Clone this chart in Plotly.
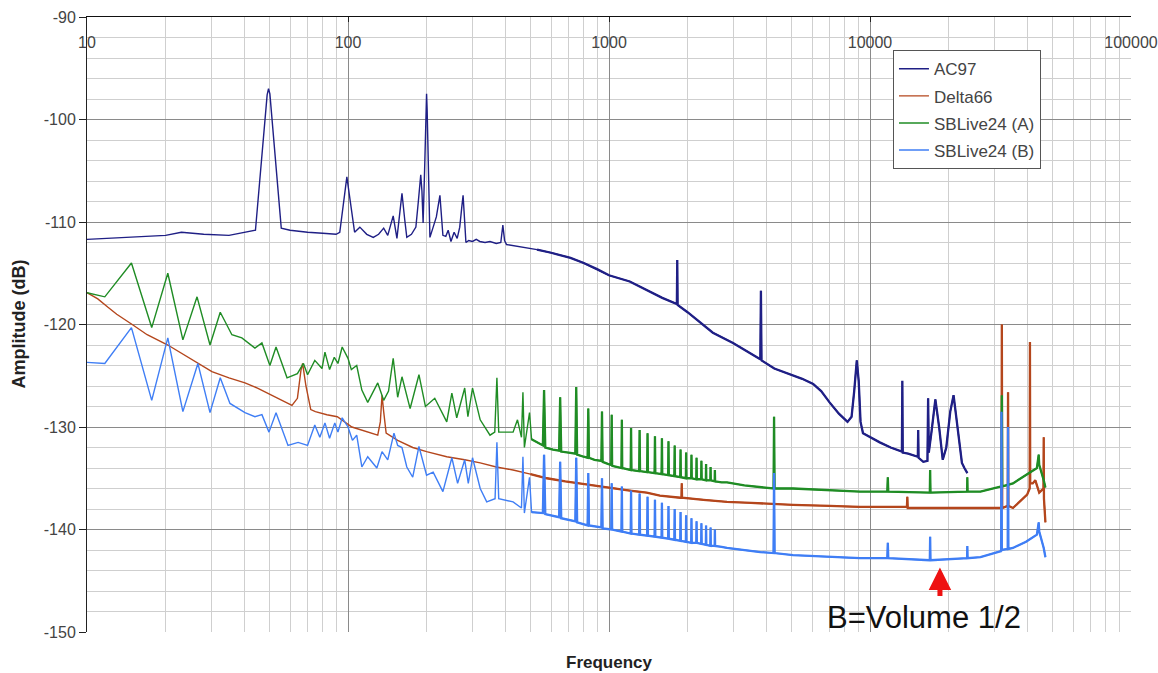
import plotly.graph_objects as go

# ---------------- data ----------------
ac97_f = [10, 12, 15, 20, 23, 28, 35, 40, 44.2, 49, 49.6, 50.2, 55.5, 60, 70, 80, 90, 93, 99, 106,
          111, 118, 125, 131, 137, 142, 149, 154, 161, 165, 168, 175, 182, 186, 190, 192, 194, 197, 199,
          200, 201, 203, 206, 212, 218, 225, 228, 231, 237, 242, 248, 255, 262, 268, 273, 276, 280, 283, 290,
          300, 310, 320, 335, 350, 370, 385, 392, 398, 405, 430, 470, 530, 600, 712, 800, 900, 1000, 1200,
          1394, 1600, 1820, 1826, 1832, 2000, 2234, 2500, 2985, 3400, 3800, 3820, 3840, 4300, 4935, 5500,
          6055, 6500, 7000, 7600, 8200, 8500, 8700, 8900, 9050, 9200, 9400, 10000, 10900, 12000, 13250,
          13300, 13350, 14000, 15250, 15300, 15350, 16000, 16600, 16700, 16800, 17200, 17800, 18400, 19000,
          19600, 20300, 20900, 21500, 22500, 23000, 23600]
ac97_db = [-111.7, -111.6, -111.5, -111.3, -111.0, -111.2, -111.3, -111.0, -110.8, -97.6, -97.0, -97.5,
           -110.6, -110.8, -111.0, -111.1, -111.2, -111.0, -105.6, -111.0,
           -110.5, -111.2, -111.5, -111.2, -110.6, -111.3, -109.4, -111.6, -107.2, -109.8, -111.5,
           -111.2, -110.5, -108.0, -105.4, -107.0, -110.1, -104.0, -98.5, -97.5, -99.0, -105.0, -111.5,
           -110.5, -109.5, -107.4, -109.0, -111.3, -111.4, -110.8, -111.9, -111.0, -111.6, -110.5, -108.5,
           -107.4, -110.0, -112.0, -111.8, -111.9, -111.7, -111.9, -112.0, -111.9, -112.1, -112.0, -110.3,
           -111.8, -112.2, -112.3, -112.5, -112.7, -113.0, -113.5, -114.0, -114.6, -115.2, -115.8, -116.6,
           -117.4, -118.0, -113.7, -118.1, -118.8, -119.8, -120.8, -121.8, -122.7, -123.4, -116.7, -123.5,
           -124.3, -124.9, -125.3, -125.8, -126.5, -127.6, -128.7, -129.5, -129.0, -126.5, -123.5, -125.5,
           -129.5, -130.6, -131.0, -131.5, -132.0, -132.4, -125.5, -132.5, -132.6, -132.9, -130.3, -133.0,
           -133.4, -133.3, -127.2, -132.5, -130.5, -127.3, -130.0, -133.2, -132.0, -128.5, -126.9, -129.5,
           -133.5, -134.0, -134.5]

delta66_f = [10, 11, 12, 13, 14.9, 17, 20.4, 25, 30.1, 35, 40.3, 45, 49.3, 55, 61, 64, 66, 67, 69, 72, 75,
             83, 91, 103.5, 115, 130, 133, 135, 137, 140, 155, 177, 200, 239, 280, 321, 370, 429, 500, 578,
             680, 774, 900, 1036, 1200, 1394, 1567, 1877, 1895, 1900, 1905, 2300, 2832, 3500, 5070, 7000,
             9160, 12000, 13850, 13900, 13950, 15500, 20000, 25000, 30000, 31900, 32000, 32100, 33700,
             33800, 33900, 35300, 38000, 40000, 40900, 41000, 41100, 42000, 43000, 44500, 46200, 46300,
             46400, 47000]
delta66_db = [-116.9, -117.5, -118.3, -119.0, -120.0, -121.0, -122.0, -123.4, -124.6, -125.2, -125.7,
              -126.2, -126.7, -127.3, -127.9, -127.2, -124.5, -123.8, -126.0, -128.3, -128.5, -128.8,
              -129.0, -130.0, -130.4, -130.8, -129.5, -126.9, -128.5, -130.6, -131.3, -132.0, -132.4,
              -132.9, -133.2, -133.5, -133.9, -134.2, -134.6, -135.0, -135.3, -135.5, -135.8, -136.0,
              -136.2, -136.4, -136.7, -136.9, -136.9, -135.5, -136.9, -137.1, -137.3, -137.4, -137.6,
              -137.7, -137.8, -137.8, -137.8, -136.8, -137.9, -137.9, -137.9, -137.9, -137.9, -137.9,
              -120.0, -137.9, -137.7, -126.6, -137.7, -137.9, -137.1, -136.6, -136.0, -121.7, -135.5,
              -135.5, -135.2, -136.4, -136.0, -131.0, -137.0, -139.3]

sbA_f = [10, 11.7, 14.8, 17.7, 20.4, 23.3, 26.4, 29.6, 32.4, 35.9, 39.2, 44, 46.8, 50.2, 53, 58.4, 64, 67.5,
         70, 74.6, 79.5, 81.6, 85, 88.6, 91.5, 95, 100, 103, 108, 113, 119, 130, 137, 143, 149, 155, 161,
         173, 187, 198, 215, 239, 250, 261, 280, 288, 300, 321, 350, 365, 372, 378, 429, 446, 462, 468,
         474, 496, 505, 528, 558, 564, 570, 610, 644, 650, 656, 700, 743, 749, 755, 800, 828, 833, 838,
         880, 935, 940, 945, 990, 1020, 1024, 1028, 1070, 1116, 1120, 1124, 1170, 1211, 1215, 1219,
         1305, 1310, 1315, 1400, 1405, 1410, 1495, 1500, 1505, 1590, 1595, 1600, 1685, 1690, 1695,
         1780, 1785, 1790, 1875, 1880, 1885, 1970, 1975, 1980, 2065, 2070, 2075, 2160, 2165, 2170,
         2255, 2260, 2265, 2350, 2355, 2360, 2445, 2450, 2455, 2540, 2545, 2550, 2700, 2832, 3300,
         3800, 4270, 4290, 4310, 5070, 7000, 9160, 11650, 11700, 11750, 15500, 16950, 17000, 17050,
         23550, 23600, 23650, 26500, 30500, 31900, 32000, 32100, 35300, 39600, 43600, 44300, 44500,
         46300, 47000]
sbA_db = [-116.9, -117.3, -114.0, -120.3, -115.0, -121.5, -117.3, -122.0, -118.8, -121.0, -121.3, -122.3,
          -121.8, -124.0, -122.2, -125.2, -124.8, -123.8, -124.9, -123.5, -124.3, -122.7, -124.4, -123.2,
          -123.8, -122.2, -123.3, -124.4, -124.0, -126.4, -127.6, -125.7, -127.4, -126.5, -123.3, -127.1,
          -125.1, -128.2, -124.9, -128.0, -127.2, -129.5, -126.7, -129.1, -126.2, -129.0, -126.2, -129.3,
          -130.8, -130.5, -125.2, -130.5, -130.5, -129.3, -131.0, -126.6, -132.0, -128.6, -131.2, -131.5,
          -131.8, -126.4, -132.0, -132.2, -132.3, -127.1, -132.4, -132.5, -132.6, -126.1, -132.7, -132.9,
          -133.0, -128.2, -133.0, -133.2, -133.3, -128.5, -133.4, -133.6, -133.7, -128.8, -133.8, -133.9,
          -134.0, -129.3, -134.0, -134.1, -134.2, -130.1, -134.2,
          -134.3, -130.3, -134.3, -134.4, -130.6, -134.4, -134.5, -130.9, -134.5, -134.6, -131.1, -134.6,
          -134.7, -131.4, -134.7, -134.8, -131.8, -134.8, -134.9, -132.2, -134.9, -135.0, -132.5, -135.0,
          -135.0, -132.7, -135.0, -135.1, -133.0, -135.1, -135.1, -133.3, -135.1, -135.2, -133.6, -135.2,
          -135.2, -133.9, -135.2, -135.3, -134.2, -135.3, -135.4, -135.4, -135.7, -135.9, -136.0, -129.0,
          -136.0, -136.0, -136.2, -136.3, -136.3, -134.9, -136.3, -136.4, -136.4, -134.2, -136.4, -136.3,
          -134.9, -136.3, -136.3, -135.9, -135.8, -126.9, -135.8, -135.5, -134.7, -134.0, -132.7, -133.7,
          -135.2, -135.9]

sbB_f = [10, 11.7, 14.8, 17.7, 20.4, 23.3, 26.6, 29.6, 32.4, 35.3, 40.3, 44, 46.8, 49.8, 53, 58.9, 64.4,
         70, 74.6, 78, 81.6, 85, 89, 91.5, 95, 100, 104, 108, 113, 119, 129, 135, 142, 150, 155, 161, 168,
         177, 187, 200, 212, 231, 250, 263, 280, 289, 300, 321, 340, 366, 372, 378, 429, 462, 468, 474,
         496, 505, 558, 564, 570, 644, 650, 656, 743, 749, 755, 828, 833, 838, 935, 940, 945, 1020, 1024,
         1028, 1116, 1120, 1124, 1211, 1215, 1219, 1305, 1310, 1315, 1400, 1405, 1410, 1495, 1500, 1505,
         1590, 1595, 1600, 1685, 1690, 1695, 1780, 1785, 1790, 1875, 1880, 1885, 1970, 1975, 1980, 2065,
         2070, 2075, 2160, 2165, 2170, 2255, 2260, 2265, 2350, 2355, 2360, 2445, 2450, 2455, 2540, 2545,
         2550, 2700, 2832, 3800, 4270, 4290, 4310, 5070, 9160, 11650, 11700, 11750, 15500, 16950, 17000,
         17050, 23550, 23600, 23650, 26500, 30500, 31800, 31900, 32000, 33700, 33800, 33900, 35300,
         39600, 43600, 44300, 44500, 46300, 47000]
sbB_db = [-123.7, -123.8, -120.3, -127.4, -121.3, -128.5, -123.8, -128.6, -125.2, -127.7, -128.6, -129.0,
          -128.8, -130.5, -128.6, -131.8, -131.5, -131.8, -129.8, -131.0, -129.6, -131.1, -129.6, -130.5,
          -129.1, -130.0, -131.3, -130.8, -133.9, -132.9, -134.0, -132.4, -133.2, -130.6, -131.8, -132.0,
          -133.9, -134.9, -131.9, -134.7, -134.4, -136.3, -133.0, -135.5, -133.2, -135.5, -133.0, -136.0,
          -137.3, -137.0, -131.5, -137.0, -137.3, -137.9, -132.9, -138.4, -134.9, -138.3, -138.4, -132.7,
          -138.5, -138.8, -133.4, -138.9, -139.2, -133.0, -139.3, -139.6, -134.5, -139.6, -139.8, -135.0,
          -139.9, -140.0, -135.5, -140.0, -140.2, -135.8, -140.2, -140.4, -136.2, -140.4,
          -140.5, -136.5, -140.5, -140.6, -136.8, -140.6, -140.7, -137.1, -140.7, -140.8, -137.4, -140.8,
          -140.9, -137.7, -140.9, -141.0, -138.0, -141.0, -141.1, -138.3, -141.1, -141.2, -138.6, -141.2,
          -141.3, -138.9, -141.3, -141.3, -139.2, -141.3, -141.4, -139.4, -141.4, -141.5, -139.6, -141.5,
          -141.6, -139.8, -141.6, -141.6, -140.0, -141.6, -141.7, -141.8, -142.2, -142.3, -134.5, -142.3,
          -142.5, -142.8, -142.8, -141.3, -142.8, -143.0, -143.0, -140.7, -143.0, -142.8, -141.6, -142.8,
          -142.7, -142.2, -142.1, -128.5, -142.0, -141.9, -130.0, -141.9, -141.8, -141.2, -140.5, -139.3,
          -140.2, -141.8, -142.7]

series_names = ["AC97", "Delta66", "SBLive24 (A)", "SBLive24 (B)"]
x_tick_vals = [10, 100, 1000, 10000, 100000]
x_tick_text = ["10", "100", "1000", "10000", "100000"]
y_tick_vals = [-90, -100, -110, -120, -130, -140, -150]
y_tick_text = ["-90", "-100", "-110", "-120", "-130", "-140", "-150"]

# ---------------- figure ----------------
FONT = "Liberation Sans, Arial, sans-serif"
colors = ["#1f1f85", "#b4461c", "#1f8c24", "#3f7ef5"]
series = [(ac97_f, ac97_db), (delta66_f, delta66_db), (sbA_f, sbA_db), (sbB_f, sbB_db)]

fig = go.Figure()
for name, (fx, fy), col in zip(series_names, series, colors):
    fig.add_trace(go.Scatter(x=fx, y=fy, mode="lines", name=name, legendgroup=name,
                             line=dict(color=col, width=1.4)))
for name, (fx, fy), col in zip(series_names, series, colors):
    hx = [a for a in fx if a >= 500]
    hy = [b for a, b in zip(fx, fy) if a >= 500]
    fig.add_trace(go.Scatter(x=hx, y=hy, mode="lines", name=name, legendgroup=name, showlegend=False,
                             line=dict(color=col, width=2.3)))

fig.update_layout(
    width=1158, height=673,
    margin=dict(l=87, r=27, t=17, b=41, autoexpand=False),
    paper_bgcolor="white", plot_bgcolor="white",
    font=dict(family=FONT, size=15, color="#444"),
    showlegend=True,
    legend=dict(x=0.772, y=0.946, xanchor="left", yanchor="top", bgcolor="white",
                bordercolor="#555", borderwidth=1, font=dict(size=17, color="#444"),
                traceorder="grouped", tracegroupgap=2),
    xaxis=dict(type="log", range=[1, 5], side="top", tickvals=x_tick_vals, ticktext=x_tick_text,
               ticklabelposition="inside", ticklabeloverflow="allow", ticklabelstandoff=15,
               ticks="inside", ticklen=5, tickcolor="#222", automargin=False,
               showline=True, linecolor="#111", linewidth=1,
               showgrid=True, gridcolor="#8a8a8a", gridwidth=1,
               minor=dict(dtick="D1", showgrid=True, gridcolor="#cfcfcf", gridwidth=1),
               zeroline=False, tickfont=dict(size=16, color="#444")),
    yaxis=dict(range=[-150, -90], tickvals=y_tick_vals, ticktext=y_tick_text, ticks="outside",
               ticklen=7, tickcolor="#222", automargin=False, ticklabeloverflow="allow",
               showline=True, linecolor="#222", linewidth=1,
               showgrid=True, gridcolor="#8a8a8a", gridwidth=1,
               minor=dict(dtick=2, showgrid=True, gridcolor="#cfcfcf", gridwidth=1),
               zeroline=False, tickfont=dict(size=16, color="#444")),
)

fig.add_annotation(xref="paper", yref="paper", x=0.5, y=-0.049, text="<b>Frequency</b>",
                   showarrow=False, font=dict(size=17, color="#222"), xanchor="center", yanchor="middle")
fig.add_annotation(xref="paper", yref="paper", x=-0.066, y=0.5, text="<b>Amplitude (dB)</b>",
                   textangle=-90, showarrow=False, font=dict(size=18, color="#222"),
                   xanchor="center", yanchor="middle")
fig.add_annotation(x=4.207, y=-148.6, xref="x", yref="y", text="B=Volume 1/2", showarrow=False,
                   font=dict(size=31, color="#111"), xanchor="center", yanchor="middle")
fig.add_annotation(x=4.268, y=-143.7, xref="x", yref="y", text="", showarrow=True,
                   ax=0, ay=30, arrowcolor="#ee1111", arrowwidth=5, arrowhead=2, arrowsize=0.9)

fig.write_html("out.html", config={"displayModeBar": False},
               post_script="document.body.style.margin='0';")
